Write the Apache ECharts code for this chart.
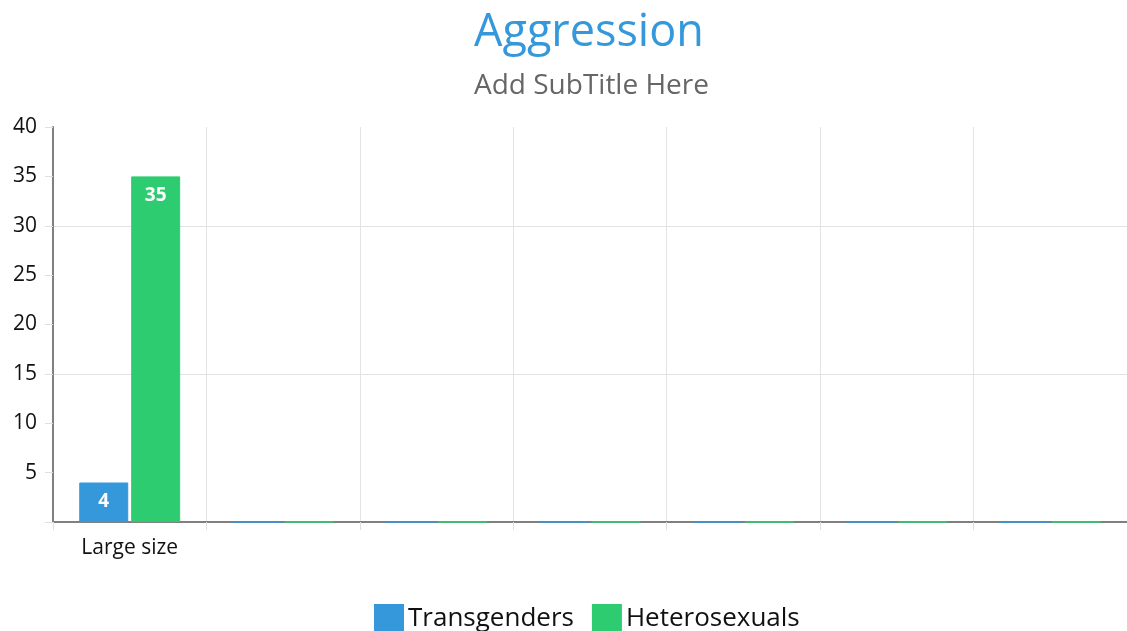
<!DOCTYPE html>
<html>
<head>
<meta charset="utf-8">
<script src="https://cdn.jsdelivr.net/npm/echarts@6/dist/echarts.min.js"></script>
<style>
  html, body { margin: 0; padding: 0; background: #fff; }
  #main { width: 1127px; height: 631px; }
</style>
</head>
<body>
<div id="main"></div>
<script>
// data
var categories = ['Large size', '', '', '', '', '', ''];
var transgenders = [4, 0, 0, 0, 0, 0, 0];
var heterosexuals = [35, 0, 0, 0, 0, 0, 0];
var yTicks = [0, 5, 10, 15, 20, 25, 30, 35, 40];

var myChart = echarts.init(document.getElementById('main'));

var font = '"Open Sans", "Noto Sans", sans-serif';

// only 15 and 30 get a horizontal grid line
var splitColors = yTicks.map(function (v) {
  return (v === 15 || v === 30) ? '#e3e3e3' : 'rgba(0,0,0,0)';
});

function barLabel(p) {
  return p.value ? String(p.value) : '';
}

var option = {
  backgroundColor: '#fff',
  color: ['#3498db', '#2ecc71'],
  textStyle: { fontFamily: font },
  title: {
    text: 'Aggression',
    subtext: 'Add SubTitle Here',
    left: 469,
    top: 6,
    itemGap: 16,
    textStyle: { color: '#3498db', fontSize: 45, fontWeight: 'normal', fontFamily: font },
    subtextStyle: { color: '#666', fontSize: 28, fontFamily: font }
  },
  legend: {
    left: 369,
    top: 599,
    itemWidth: 28,
    itemHeight: 28,
    itemGap: 18,
    icon: 'rect',
    textStyle: { fontSize: 26, color: '#111', fontFamily: font },
    data: ['Transgenders', 'Heterosexuals']
  },
  grid: {
    left: 53,
    right: 0,
    top: 127,
    bottom: 109,
    containLabel: false
  },
  xAxis: {
    type: 'category',
    data: categories,
    axisLine: { lineStyle: { color: '#808080', width: 2 } },
    axisTick: { show: true, length: 8, lineStyle: { color: '#e0e0e0' } },
    axisLabel: { color: '#111', fontSize: 21, margin: 16, fontFamily: font },
    splitLine: { show: true, lineStyle: { color: '#e3e3e3', width: 1 } }
  },
  yAxis: {
    type: 'value',
    min: 0,
    max: 40,
    interval: 5,
    axisLine: { show: true, lineStyle: { color: '#808080', width: 2 } },
    axisTick: { show: true, length: 8, lineStyle: { color: '#e0e0e0' } },
    axisLabel: {
      color: '#111',
      fontSize: 21,
      margin: 16,
      fontFamily: font,
      formatter: function (v) { return v === 0 ? '' : String(v); }
    },
    splitLine: { show: true, lineStyle: { color: splitColors, width: 1 } }
  },
  series: [
    {
      name: 'Transgenders',
      type: 'bar',
      data: transgenders,
      barWidth: 49,
      barGap: '6%',
      itemStyle: { borderColor: '#3498db', borderWidth: 1 },
      label: {
        show: true,
        position: 'insideTop',
        distance: 10,
        color: '#fff',
        fontSize: 19,
        fontWeight: 'bold',
        fontFamily: font,
        formatter: barLabel
      }
    },
    {
      name: 'Heterosexuals',
      type: 'bar',
      data: heterosexuals,
      barWidth: 49,
      barGap: '6%',
      itemStyle: { borderColor: '#2ecc71', borderWidth: 1 },
      label: {
        show: true,
        position: 'insideTop',
        distance: 10,
        color: '#fff',
        fontSize: 19,
        fontWeight: 'bold',
        fontFamily: font,
        formatter: barLabel
      }
    }
  ]
};

myChart.setOption(option);
</script>
</body>
</html>
